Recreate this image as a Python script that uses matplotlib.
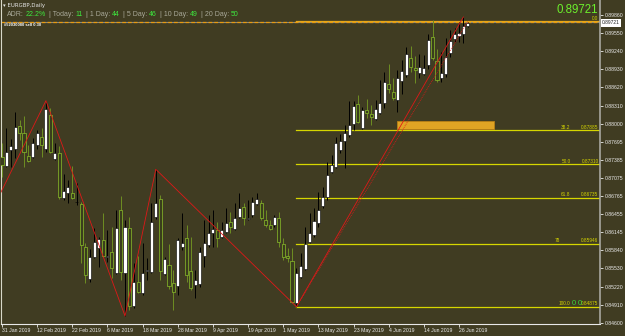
import matplotlib
matplotlib.use('Agg')
import matplotlib.pyplot as plt
from matplotlib.patches import Rectangle
import numpy as np
import pandas as pd

plt.rcParams['font.family'] = ['Liberation Sans', 'DejaVu Sans']

# ---------------- data ----------------
dates = pd.bdate_range('2019-01-31', '2019-06-28')  # daily bars

opens = [0.87431, 0.87278, 0.87551, 0.87563, 0.87961, 0.87836, 0.87449, 0.87437, 0.87636, 0.87778,
         0.87563, 0.88148, 0.87397, 0.87495, 0.86727, 0.86823, 0.86812, 0.86662, 0.86630, 0.85902,
         0.85345, 0.85731, 0.85874, 0.86016, 0.85726, 0.85816, 0.85458, 0.86527, 0.85458, 0.86225,
         0.84890, 0.85304, 0.85106, 0.85487, 0.85475, 0.86403, 0.86710, 0.85436, 0.85589, 0.85287,
         0.85231, 0.85891, 0.86045, 0.85492, 0.85248, 0.85265, 0.85743, 0.85930, 0.86140, 0.86186,
         0.86062, 0.86157, 0.86328, 0.86203, 0.86413, 0.86584, 0.86369, 0.86442, 0.86630, 0.86642,
         0.86357, 0.86271, 0.86271, 0.86396, 0.85942, 0.85743, 0.85662, 0.84946, 0.85390, 0.85516,
         0.85987, 0.86101, 0.86301, 0.86596, 0.86754, 0.87181, 0.87266, 0.87551, 0.87705, 0.87807,
         0.87995, 0.88336, 0.87921, 0.88233, 0.88160, 0.88075, 0.88177, 0.88348, 0.88677, 0.88546,
         0.88404, 0.88728, 0.88831, 0.89121, 0.88945, 0.88865, 0.88848, 0.89001, 0.89474, 0.89069,
         0.88774, 0.88848, 0.89211, 0.89440, 0.89496, 0.89530, 0.89666]
highs = [0.87671, 0.87926, 0.87739, 0.88204, 0.88063, 0.88131, 0.87636, 0.87756, 0.87892, 0.87921,
         0.88392, 0.88262, 0.87665, 0.87619, 0.87142, 0.87039, 0.87278, 0.86988, 0.86664, 0.85960,
         0.85857, 0.86215, 0.86072, 0.86471, 0.86186, 0.86243, 0.86527, 0.86766, 0.86357, 0.86413,
         0.85618, 0.85743, 0.85960, 0.85708, 0.86652, 0.87222, 0.86783, 0.85731, 0.85947, 0.85504,
         0.86045, 0.86471, 0.86271, 0.86072, 0.85504, 0.85902, 0.86357, 0.86442, 0.86527, 0.86328,
         0.86328, 0.86556, 0.86498, 0.86642, 0.86812, 0.86652, 0.86698, 0.86754, 0.86812, 0.86698,
         0.86527, 0.86357, 0.86442, 0.86498, 0.86045, 0.85874, 0.85874, 0.85538, 0.85799, 0.86243,
         0.86471, 0.86556, 0.86840, 0.86925, 0.87351, 0.87466, 0.87778, 0.87824, 0.87978, 0.88392,
         0.88392, 0.88489, 0.88290, 0.88416, 0.88319, 0.88404, 0.88745, 0.88887, 0.89018, 0.88774,
         0.88916, 0.89086, 0.89303, 0.89325, 0.89155, 0.89189, 0.89172, 0.89530, 0.89769, 0.89269,
         0.89228, 0.89457, 0.89598, 0.89627, 0.89740, 0.89820, 0.89740]
lows = [0.87090, 0.87261, 0.87261, 0.87414, 0.87722, 0.87266, 0.87351, 0.87414, 0.87563, 0.87426,
        0.87522, 0.87495, 0.87380, 0.86710, 0.86698, 0.86652, 0.86710, 0.86613, 0.85618, 0.85287,
        0.85304, 0.85704, 0.85560, 0.85731, 0.85646, 0.85362, 0.85436, 0.85333, 0.84719, 0.84821,
        0.84850, 0.85106, 0.85077, 0.85333, 0.85458, 0.86369, 0.85333, 0.85419, 0.85175, 0.84821,
        0.85077, 0.85845, 0.85304, 0.85163, 0.85021, 0.85219, 0.85560, 0.85891, 0.85902, 0.85902,
        0.86045, 0.86130, 0.86130, 0.86186, 0.86386, 0.86271, 0.86357, 0.86413, 0.86613, 0.86357,
        0.86243, 0.86186, 0.86243, 0.85902, 0.85674, 0.85646, 0.84936, 0.84878, 0.85362, 0.85504,
        0.85970, 0.86072, 0.86243, 0.86556, 0.86698, 0.87153, 0.87239, 0.87495, 0.87239, 0.87778,
        0.87892, 0.88006, 0.87904, 0.88092, 0.87978, 0.88063, 0.88165, 0.88262, 0.88529, 0.88404,
        0.88204, 0.88506, 0.88802, 0.88887, 0.88699, 0.88774, 0.88831, 0.88928, 0.89086, 0.88716,
        0.88716, 0.88802, 0.89143, 0.89399, 0.89399, 0.89371, 0.89655]
closes = [0.87295, 0.87522, 0.87624, 0.87949, 0.87836, 0.87522, 0.87368, 0.87665, 0.87836, 0.87636,
          0.88245, 0.87522, 0.87495, 0.86754, 0.86852, 0.86915, 0.86727, 0.86672, 0.85930, 0.85419,
          0.85731, 0.85976, 0.86028, 0.85743, 0.85743, 0.85533, 0.86215, 0.85475, 0.86243, 0.84890,
          0.85304, 0.85134, 0.85458, 0.85496, 0.86328, 0.86652, 0.85492, 0.85686, 0.85231, 0.85134,
          0.86016, 0.85959, 0.85419, 0.85192, 0.85333, 0.85816, 0.85959, 0.86140, 0.86203, 0.86045,
          0.86186, 0.86311, 0.86243, 0.86396, 0.86556, 0.86396, 0.86396, 0.86669, 0.86710, 0.86386,
          0.86271, 0.86198, 0.86413, 0.85987, 0.85720, 0.85704, 0.84963, 0.85447, 0.85572, 0.85942,
          0.86130, 0.86345, 0.86527, 0.86744, 0.87125, 0.87295, 0.87676, 0.87710, 0.87836, 0.87978,
          0.88302, 0.88034, 0.88233, 0.88177, 0.88109, 0.88250, 0.88348, 0.88716, 0.88587, 0.88433,
          0.88774, 0.88899, 0.89189, 0.88972, 0.88916, 0.88962, 0.88945, 0.89428, 0.89115, 0.88745,
          0.88870, 0.89143, 0.89416, 0.89530, 0.89547, 0.89666, 0.89721]

zz_idx = [-3, 10, 28, 35, 67, 105]
zz_price = [0.86410, 0.88392, 0.84719, 0.87222, 0.84878, 0.89820]

fib_idx = [67, 106]
fib_low = 0.84875
fib_high = 0.89745
fib_levels = [0.0, 38.2, 50.0, 61.8, 78.0, 100.0]
fib_names = ['0.0', '38.2', '50.0', '61.8', '78', '100.0']

zone_idx = [90, 112]
zone_price = [0.87906, 0.88042]

bid = 0.89721
ytick_vals = [0.84600, 0.84910, 0.85220, 0.85530, 0.85840, 0.86145, 0.86455, 0.86765, 0.87075,
              0.87385, 0.87695, 0.88000, 0.88310, 0.88620, 0.88930, 0.89240, 0.89550, 0.89860]
xtick_idx = [0, 8, 16, 24, 32, 40, 48, 56, 64, 72, 80, 88, 96, 104]

adr_labels = ['ADR:', '| Today:', '| 1 Day:', '| 5 Day:', '| 10 Day:', '| 20 Day:']
adr_values = ['22.2%', '11', '44', '46', '49', '50']

# ---------------- style ----------------
BG = '#403c22'
BULL_FACE = '#ffffff'
BULL_EDGE = '#000000'
BEAR_FACE = '#3a3d1c'
BEAR_EDGE = '#8cc02a'
BEAR_WICK = '#6e8e22'
FIB = '#d6d600'
W, H = 625, 336

fig = plt.figure(figsize=(W / 100, H / 100), dpi=100, facecolor=BG)
ax = fig.add_axes([1.5 / W, 12 / H, 598.5 / W, 324 / H], facecolor=BG)

o = np.array(opens); h = np.array(highs); l = np.array(lows); c = np.array(closes)
x = np.arange(len(o))
bull = c >= o

# wicks
ax.vlines(x[bull], l[bull], h[bull], color='#000000', lw=0.7, zorder=3)
ax.vlines(x[~bull], l[~bull], h[~bull], color=BEAR_WICK, lw=0.7, zorder=3)
# bodies
body_lo = np.minimum(o, c)
body_h = np.maximum(np.abs(c - o), 0.00004)
ax.bar(x[bull], body_h[bull], bottom=body_lo[bull], width=0.7, color=BULL_FACE,
       edgecolor=BULL_EDGE, linewidth=0.4, zorder=4)
ax.bar(x[~bull], body_h[~bull], bottom=body_lo[~bull], width=0.7, color=BEAR_FACE,
       edgecolor=BEAR_EDGE, linewidth=0.5, zorder=4)

xmax = 136.09
ax.set_xlim(-0.114, xmax)
ax.set_ylim(0.84583, 0.90110)

# top horizontal dashed line (bid / level)
ax.axhline(bid + 0.00008, color='#8a8a80', lw=0.8, zorder=2)
ax.axhline(bid + 0.00008, color='#e89a10', lw=0.9, dashes=(3, 1.6), zorder=2)

# fibonacci levels
rng = fib_high - fib_low
tr = ax.get_yaxis_transform()
for lvl, name in zip(fib_levels, fib_names):
    price = fib_high - lvl / 100.0 * rng
    col = '#e8a818' if lvl == 0.0 else FIB
    ax.plot([fib_idx[0], xmax], [price, price], color=col, lw=0.9, zorder=2)
    if lvl == 0.0:
        ax.text(0.9975, price + 0.00012, name, transform=tr, ha='right', va='bottom',
                fontsize=3.3, color=FIB, zorder=6)
    else:
        xr = 0.934 if name == '78' else 0.951
        ax.text(xr, price + 0.00010, name, transform=tr, ha='right', va='bottom',
                fontsize=3.4, color=FIB, zorder=6)
        ax.text(0.9975, price + 0.00010, f'{price:.5f}', transform=tr, ha='right', va='bottom',
                fontsize=3.4, color=FIB, zorder=6)
        if lvl == 100.0:
            ax.text(0.9565, price + 0.00004, '0', transform=tr, ha='center', va='bottom',
                    fontsize=5.5, color='#38d838', zorder=7)
            ax.text(0.9665, price + 0.00004, '0', transform=tr, ha='center', va='bottom',
                    fontsize=5.5, color='#38d838', zorder=7)

# fib trend line (dotted)
ax.plot(fib_idx, [fib_low, fib_high], color='#e01818', lw=0.6, ls=(0, (1, 1.2)), zorder=5)
# zigzag
ax.plot(zz_idx, zz_price, color='#e01818', lw=0.6, zorder=5)

# orange zone
ax.add_patch(Rectangle((zone_idx[0], zone_price[0]), zone_idx[1] - zone_idx[0],
                       zone_price[1] - zone_price[0], facecolor='#e0a424',
                       edgecolor='#b88016', lw=0.6, zorder=3))

# axes / ticks
ax.spines['top'].set_visible(False)
ax.spines['left'].set_color('#d8d8c8'); ax.spines['left'].set_linewidth(0.8)
ax.spines['bottom'].set_color('#e8e8e8'); ax.spines['bottom'].set_linewidth(0.8)
ax.spines['right'].set_color('#a8a8a0'); ax.spines['right'].set_linewidth(1.2)

ax.yaxis.tick_right()
ax.set_yticks(ytick_vals, labels=[f'{v:.5f}' for v in ytick_vals])
ax.tick_params(axis='y', colors='#ececec', length=2, width=0.6, pad=1.2, labelsize=3.7)
xlabels = [f"{dates[i].day} {dates[i].strftime('%b %Y')}" for i in xtick_idx]
ax.set_xticks(xtick_idx, labels=xlabels)
ax.tick_params(axis='x', colors='#ececec', length=2, width=0.6, pad=1.0, labelsize=3.7)
for t in ax.get_xticklabels():
    t.set_ha('left')

# current price box
ax.text(1.003, bid, f'{bid:.5f}', transform=tr, ha='left', va='center',
        fontsize=3.5, color='#202020', zorder=8,
        bbox=dict(boxstyle='square,pad=0.25', fc='white', ec='none'))

# header texts
def fx(px):
    return px / W

def fy(py):
    return 1 - py / H

fig.text(fx(3), fy(5), '\u25be EURGBP,Daily', fontsize=3.9, color='#e8e8e8', va='center',
         family=['DejaVu Sans'])
fig.canvas.draw()
r = fig.canvas.get_renderer()
cx = 7
for lab, val in zip(adr_labels, adr_values):
    t = fig.text(fx(cx), fy(14.5), lab, fontsize=5.0, color='#a8a898', va='center')
    cx = t.get_window_extent(r).x1 + 2
    t2 = fig.text(fx(cx), fy(14.5), val, fontsize=5.0, color='#3ee83e', va='center')
    cx = t2.get_window_extent(r).x1 + 3
fig.text(fx(4), fy(25), '#52030080 sell 0.30', fontsize=2.9, color='#ffffff', va='center',
         fontweight='bold')
fig.text(fx(598), fy(10), f'{bid:.5f}', fontsize=8.3, color='#6cf02c', ha='right', va='center')

fig.savefig('out.png', dpi=100, facecolor=BG)
